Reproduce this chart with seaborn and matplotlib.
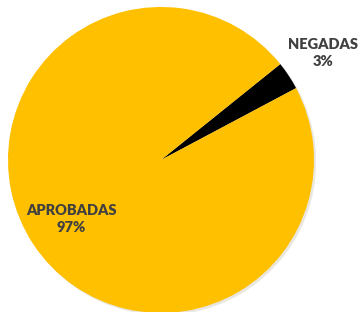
import numpy as np
import matplotlib.pyplot as plt
import seaborn as sns

sns.set_style('white')
plt.rcParams['font.family'] = ['Lato', 'DejaVu Sans']

# data
labels = ['NEGADAS', 'APROBADAS']
values = [3, 97]
pct_text = ['3%', '97%']
colors = ['#000000', '#FFC000']
label_dist = [1.27, 0.70]

fig = plt.figure(figsize=(3.6, 3.12), dpi=100)
ax = fig.add_axes([0.0222, -0.0032, 0.85, 0.981])

wedges, _ = ax.pie(values, colors=colors, startangle=38.8, counterclock=False,
                   radius=1.0, wedgeprops=dict(linewidth=0),
                   shadow=dict(ox=0.01, oy=-0.01, shade=0.7, alpha=0.12))

for w, lab, pct, d in zip(wedges, labels, pct_text, label_dist):
    ang = np.deg2rad((w.theta1 + w.theta2) / 2)
    ax.text(d * np.cos(ang), d * np.sin(ang), lab + '\n' + pct,
            ha='center', va='center', fontsize=10.5, fontweight='heavy',
            color='#404040', linespacing=1.35)

ax.set_xlim(-1, 1)
ax.set_ylim(-1, 1)
ax.axis('off')

fig.savefig('out.png', dpi=100)
